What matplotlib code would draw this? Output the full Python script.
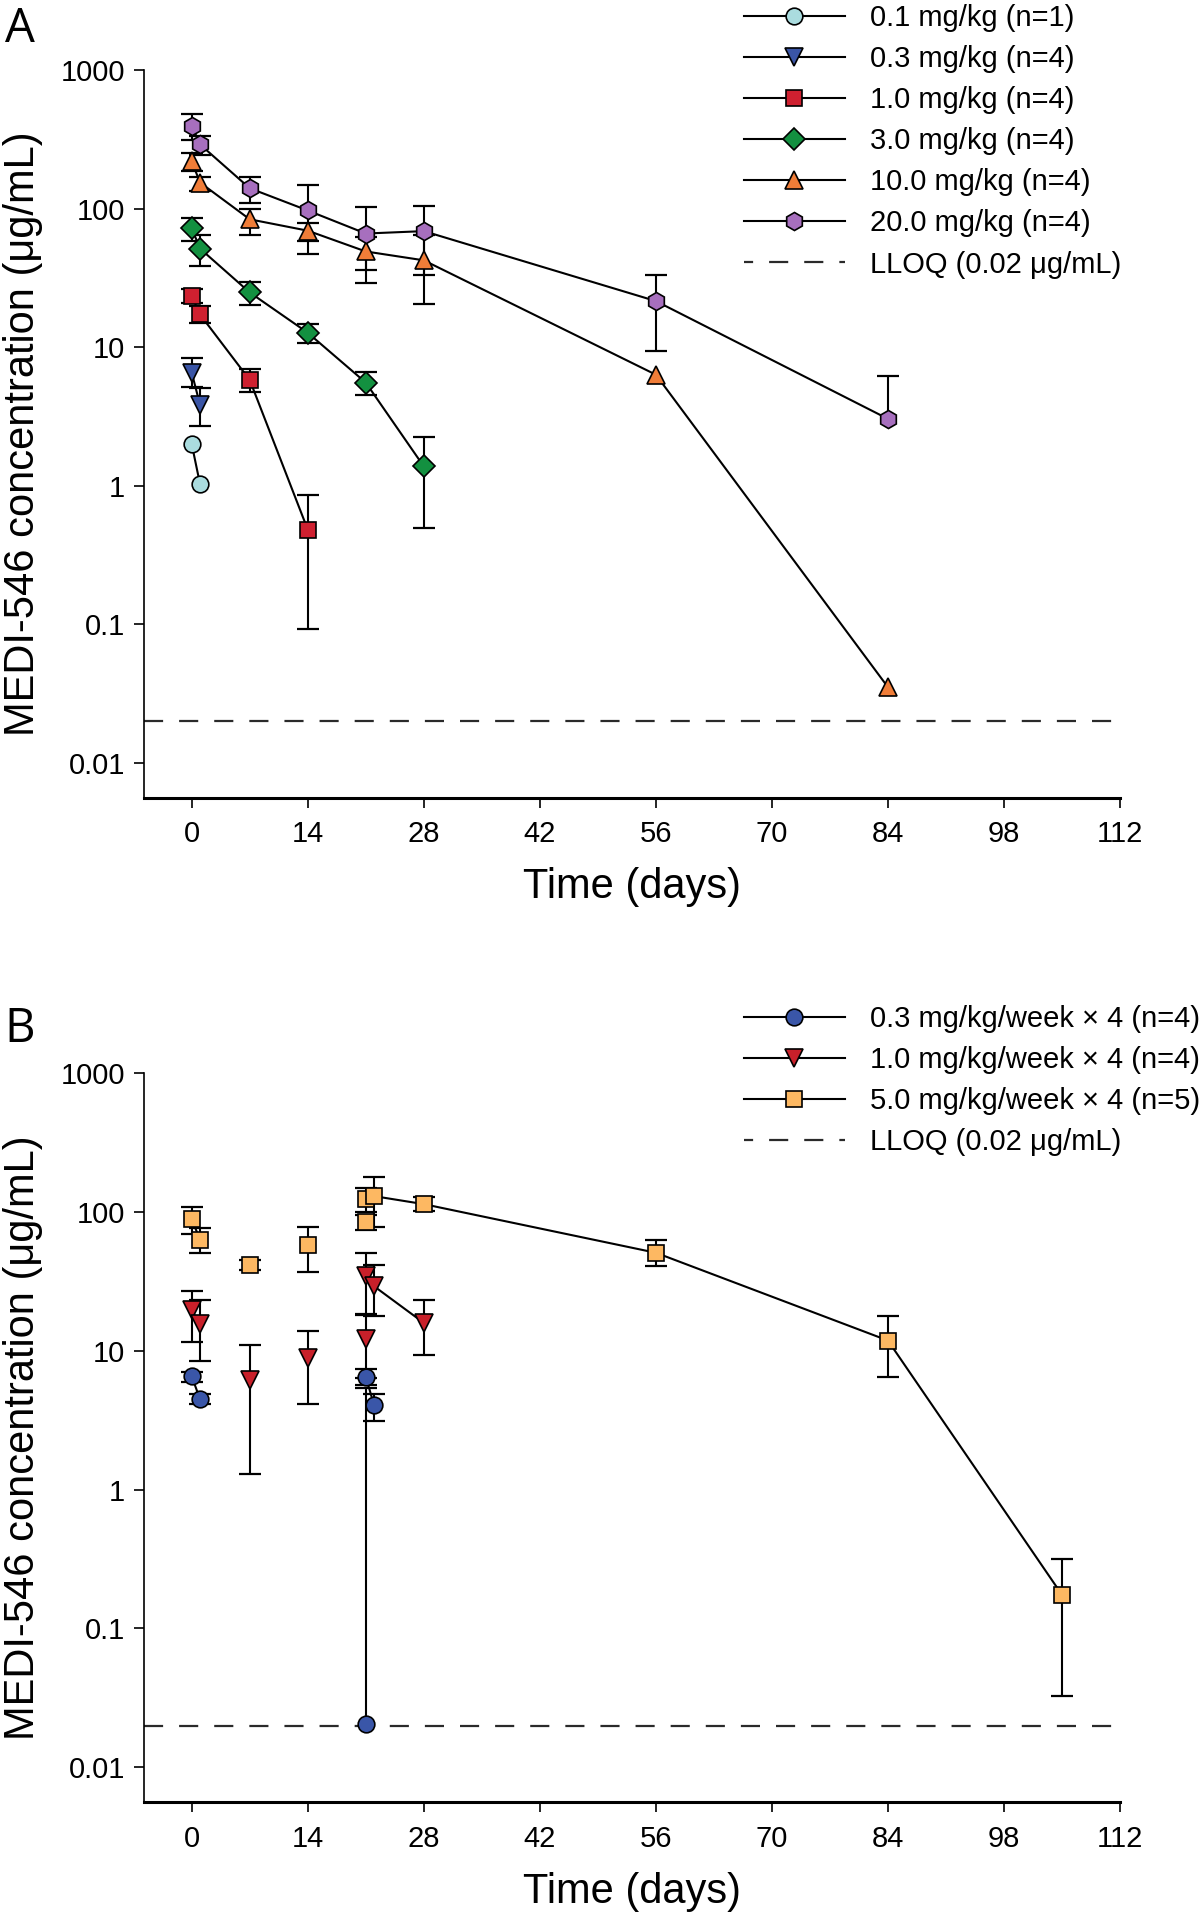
import matplotlib
matplotlib.use('Agg')
import matplotlib.pyplot as plt
from matplotlib.lines import Line2D
from matplotlib.ticker import NullLocator

plt.rcParams['font.family'] = ['Liberation Sans', 'DejaVu Sans']

#%% Panel A - single dose
a01_days = [0, 1]
a01_mean = [2.0, 1.03]
a01_lo = [None, None]
a01_hi = [None, None]

a03_days = [0, 1]
a03_mean = [6.55, 3.84]
a03_lo = [5.17, 2.69]
a03_hi = [8.3, 5.07]

a1_days = [0, 1, 7, 14]
a1_mean = [23.4, 17.2, 5.8, 0.483]
a1_lo = [20.7, 15.0, 4.72, 0.0925]
a1_hi = [26.3, 19.8, 6.95, 0.863]

a3_days = [0, 1, 7, 14, 21, 28]
a3_mean = [72, 51.4, 24.8, 12.7, 5.55, 1.38]
a3_lo = [58.6, 38.7, 20.2, 10.7, 4.5, 0.50]
a3_hi = [86, 64, 29.7, 14.6, 6.6, 2.25]

a10_days = [0, 1, 7, 14, 21, 28, 56, 84]
a10_mean = [219, 154, 83.6, 69.2, 49, 42.3, 6.33, 0.0353]
a10_lo = [186, 133, 64, 58, 36, 20.5, None, None]
a10_hi = [252, 170, 98.5, 79, 62, 64, None, None]

a20_days = [0, 1, 7, 14, 21, 28, 56, 84]
a20_mean = [397, 290, 140, 96.8, 66, 68.7, 21.5, 3.04]
a20_lo = [314, 244, 110, 47, 29, 33, 9.4, None]
a20_hi = [480, 336, 168, 147, 103, 105, 32.9, 6.2]

a_labels = ['0.1 mg/kg (n=1)', '0.3 mg/kg (n=4)', '1.0 mg/kg (n=4)',
            '3.0 mg/kg (n=4)', '10.0 mg/kg (n=4)', '20.0 mg/kg (n=4)']

#%% Panel B - weekly x 4 (second entry at day 21 = pre-dose trough)
b03_days = [0, 1, 21, 21, 22]
b03_mean = [6.53, 4.46, 0.0204, 6.5, 4.03]
b03_lo = [5.98, 4.12, None, 5.64, 3.13]
b03_hi = [7.06, 4.87, 5.4, 7.36, 4.86]
b03_joined = [[0, 1], [3, 4]]

b1_days = [0, 1, 7, 14, 21, 21, 22, 28]
b1_mean = [19.5, 15.4, 6.17, 8.9, 12.2, 34.1, 29, 15.8]
b1_lo = [11.5, 8.4, 1.29, 4.1, 6.3, 18.4, 17.8, 9.3]
b1_hi = [27, 22.9, 11.0, 13.9, 18.1, 50, 41, 23]
b1_joined = [[0, 1], [5, 6, 7]]

b5_days = [0, 1, 7, 14, 21, 21, 22, 28, 56, 84, 105]
b5_mean = [88, 62.7, 41.2, 57.4, 83.8, 124, 129, 113, 50.5, 11.8, 0.175]
b5_lo = [68.5, 50, 37.9, 36.6, 73.6, 100, 78, 100.7, 40.5, 6.4, 0.0328]
b5_hi = [107, 76.7, 44.6, 78, 94, 147, 178, 127, 61.9, 17.7, 0.317]
b5_joined = [[0, 1], [5, 6, 7, 8, 9, 10]]

b_labels = ['0.3 mg/kg/week \u00d7 4 (n=4)', '1.0 mg/kg/week \u00d7 4 (n=4)',
            '5.0 mg/kg/week \u00d7 4 (n=5)']

lloq = 0.02
lloq_label = 'LLOQ (0.02 \u03bcg/mL)'
x_ticks = list(range(0, 113, 14))
y_ticks = [0.01, 0.1, 1, 10, 100, 1000]
y_ticklabels = ['0.01', '0.1', '1', '10', '100', '1000']

#%% styling
FS_TICK = 21
FS_LABEL = 30
LW = 1.5
DASH = (8.6, 7.2)
MEW = 1.2


def errbars(ax, days, mean, lo, hi):
    for d, m, l, h in zip(days, mean, lo, hi):
        if l is None and h is None:
            continue
        bot = m if l is None else l
        top = m if h is None else h
        ax.vlines(d, bot, top, color='black', lw=1.5, zorder=2)
        for c in (l, h):
            if c is not None:
                ax.plot([d], [c], ls='none', marker='_', ms=16, mew=1.6,
                        color='black', zorder=2)


def series(ax, days, mean, lo, hi, joined, marker, color, ms, label):
    errbars(ax, days, mean, lo, hi)
    if joined is None:
        joined = [list(range(len(days)))]
    for seg in joined:
        ax.plot([days[i] for i in seg], [mean[i] for i in seg], color='black',
                lw=LW, zorder=3)
    ax.plot(days, mean, ls='none', marker=marker, ms=ms, mfc=color,
            mec='black', mew=MEW, zorder=4)
    return Line2D([], [], color='black', lw=LW, marker=marker, ms=ms,
                  mfc=color, mec='black', mew=MEW, label=label)


def setup(ax):
    ax.set_yscale('log')
    ax.set_ylim(0.0056, 1000)
    ax.set_xlim(-5.7, 112)
    ax.set_xticks(x_ticks)
    ax.set_yticks(y_ticks)
    ax.set_yticklabels(y_ticklabels)
    ax.yaxis.set_minor_locator(NullLocator())
    ax.spines['top'].set_visible(False)
    ax.spines['right'].set_visible(False)
    ax.spines['left'].set_linewidth(1.2)
    ax.spines['bottom'].set_linewidth(2.2)
    ax.tick_params(axis='both', direction='out', length=7.2, width=1.2,
                   labelsize=FS_TICK)
    ax.tick_params(axis='y', pad=7)
    ax.tick_params(axis='x', pad=9)
    ax.axhline(lloq, color='#2a2a2a', lw=1.6, dashes=DASH, zorder=1)
    ax.set_xlabel('Time (days)', fontsize=FS_LABEL)
    ax.set_ylabel('MEDI-546 concentration (\u03bcg/mL)', fontsize=FS_LABEL)
    ax.xaxis.set_label_coords(0.5, -0.095)
    ax.yaxis.set_label_coords(-0.104, 0.5)


fig = plt.figure(figsize=(12, 19.2), dpi=100)
axA = fig.add_axes([0.1204, 0.5844, 0.8129, 0.3792])
axB = fig.add_axes([0.1204, 0.0612, 0.8129, 0.3802])

# legend sample starts with a short dash like the original
lloq_handle = Line2D([], [], color='#2a2a2a', lw=1.6,
                     linestyle=(4.5, DASH), label=lloq_label)

#%% A
setup(axA)
hA = []
hA.append(series(axA, a01_days, a01_mean, a01_lo, a01_hi, None, 'o', '#aadcdf', 12, a_labels[0]))
hA.append(series(axA, a03_days, a03_mean, a03_lo, a03_hi, None, 'v', '#3a55a6', 12.5, a_labels[1]))
hA.append(series(axA, a1_days, a1_mean, a1_lo, a1_hi, None, 's', '#cf2030', 11.5, a_labels[2]))
hA.append(series(axA, a3_days, a3_mean, a3_lo, a3_hi, None, 'D', '#139040', 11, a_labels[3]))
hA.append(series(axA, a10_days, a10_mean, a10_lo, a10_hi, None, '^', '#f07d38', 12.5, a_labels[4]))
hA.append(series(axA, a20_days, a20_mean, a20_lo, a20_hi, None, 'h', '#a76fbe', 13, a_labels[5]))
hA.append(lloq_handle)

#%% B
setup(axB)
hB = []
hB.append(series(axB, b03_days, b03_mean, b03_lo, b03_hi, b03_joined, 'o', '#3a56a8', 12, b_labels[0]))
hB.append(series(axB, b1_days, b1_mean, b1_lo, b1_hi, b1_joined, 'v', '#c8202a', 12.5, b_labels[1]))
hB.append(series(axB, b5_days, b5_mean, b5_lo, b5_hi, b5_joined, 's', '#fdb862', 11.5, b_labels[2]))
hB.append(lloq_handle)

leg_kw = dict(loc='upper left', frameon=False, fontsize=21, handlelength=3.46,
              handletextpad=0.86, labelspacing=0.45, borderpad=0,
              borderaxespad=0)
fig.legend(handles=hA, bbox_to_anchor=(0.62, 0.998), **leg_kw)
fig.legend(handles=hB, bbox_to_anchor=(0.62, 0.4765), **leg_kw)

fig.text(0.004, 0.997, 'A', fontsize=34, family='Open Sans', va='top')
fig.text(0.004, 0.4765, 'B', fontsize=34, family='Open Sans', va='top')

fig.savefig('out.png', dpi=100)
